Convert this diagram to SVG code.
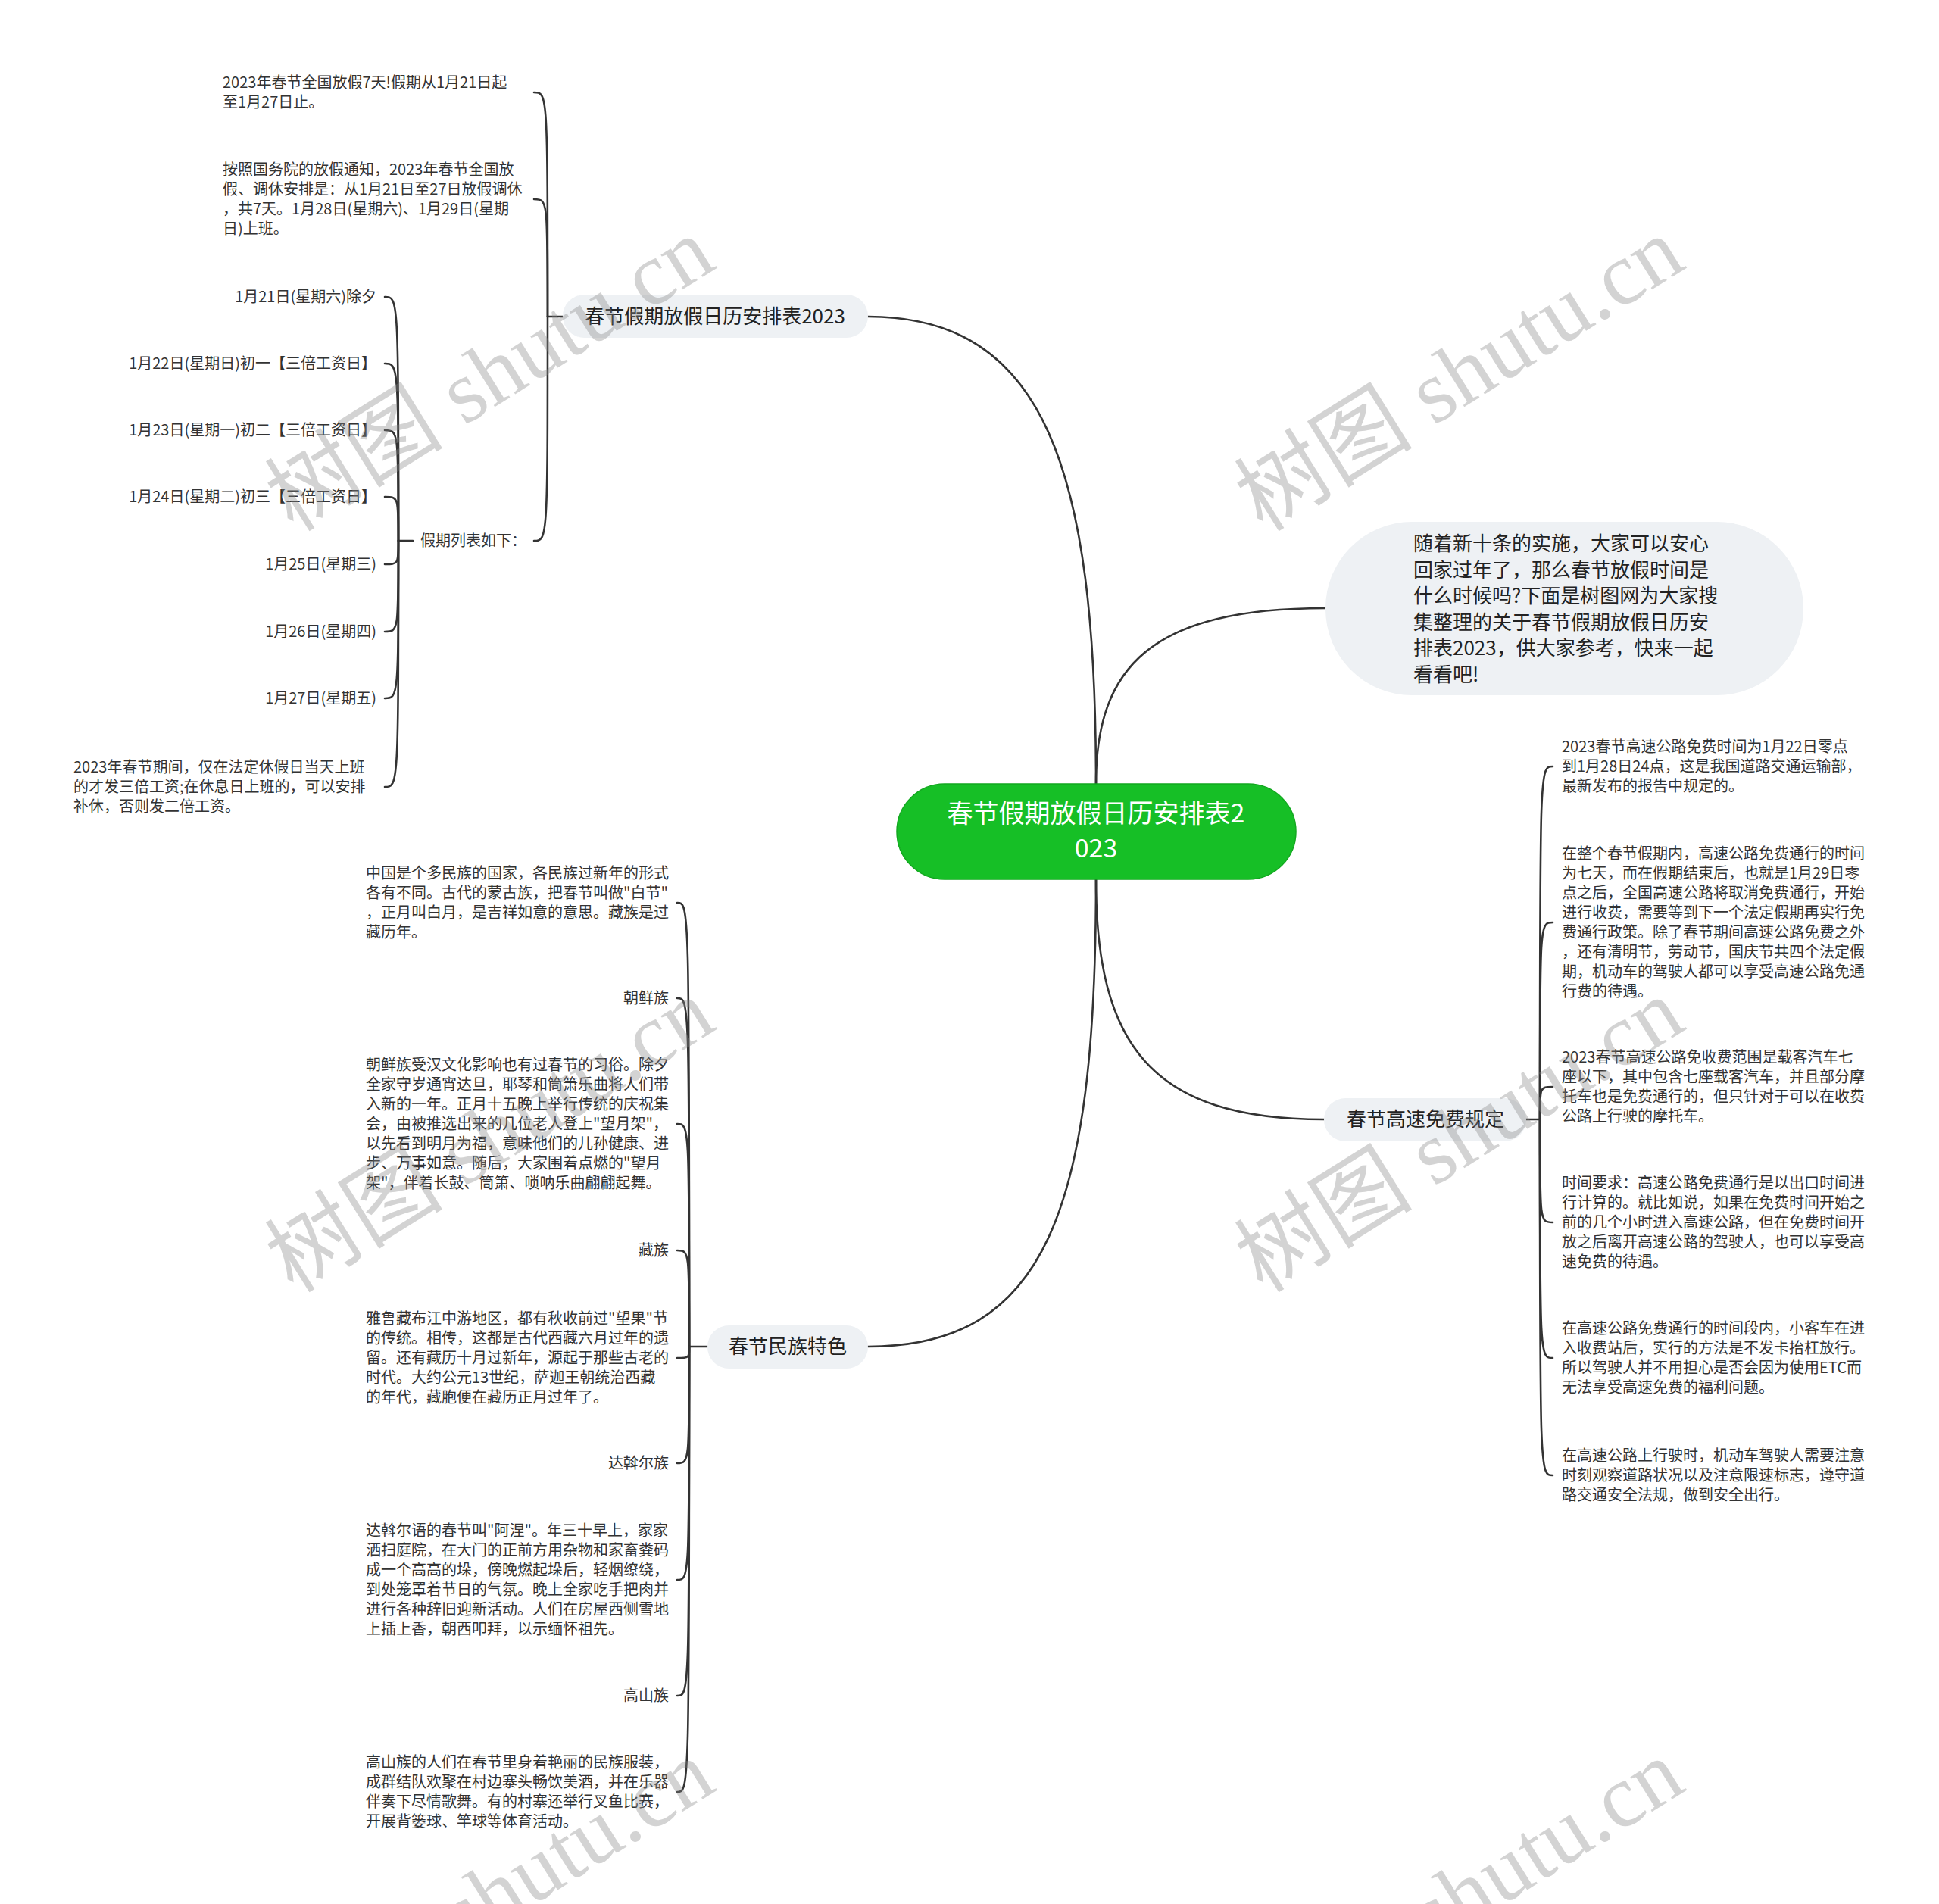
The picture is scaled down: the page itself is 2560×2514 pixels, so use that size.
<svg xmlns="http://www.w3.org/2000/svg" width="2560" height="2514" viewBox="0 0 2560 2514">
<style>
.ln{fill:none;stroke:#333;stroke-width:2.6;stroke-linecap:round}
.pill{fill:#eef1f4}
.t{font-family:"Noto Sans CJK SC","Microsoft YaHei",sans-serif;fill:#333;font-size:20px}
.b{font-family:"Noto Sans CJK SC",sans-serif;fill:#222;font-size:26px}
.r{font-family:"Noto Sans CJK SC",sans-serif;fill:#fff;font-size:34px}
.e{text-anchor:end}
.m{text-anchor:middle}
.wm{font-family:"Liberation Serif","Noto Sans CJK SC",serif;font-size:118px;fill:#888;opacity:0.36}
</style>
<rect width="2560" height="2514" fill="#fff"/>
<g id="connectors">
<path class="ln" d="M1447,1035 C1447,620 1380,418 1146,418"/>
<path class="ln" d="M1447,1035 C1447,880 1520,803 1750,803"/>
<path class="ln" d="M1447,1161 C1447,1380 1520,1478 1748,1478"/>
<path class="ln" d="M1447,1161 C1447,1600 1380,1778 1146,1778"/>
<path class="ln" d="M743,418 H723"/>
<path class="ln" d="M723,418 C723,122 723,122 705,122"/>
<path class="ln" d="M723,418 C723,263 723,263 705,263"/>
<path class="ln" d="M723,418 C723,714 723,714 705,714"/>
<path class="ln" d="M545,714 H526"/>
<path class="ln" d="M526,714 C526,392 526,392 508,392"/>
<path class="ln" d="M526,714 C526,480 526,480 508,480"/>
<path class="ln" d="M526,714 C526,568 526,568 508,568"/>
<path class="ln" d="M526,714 C526,656 526,656 508,656"/>
<path class="ln" d="M526,714 C526,745 526,745 508,745"/>
<path class="ln" d="M526,714 C526,834 526,834 508,834"/>
<path class="ln" d="M526,714 C526,922 526,922 508,922"/>
<path class="ln" d="M526,714 C526,1039 526,1039 508,1039"/>
<path class="ln" d="M2015,1478 H2033"/>
<path class="ln" d="M2033,1478 C2033,1012 2033,1012 2050,1012"/>
<path class="ln" d="M2033,1478 C2033,1218 2033,1218 2050,1218"/>
<path class="ln" d="M2033,1478 C2033,1435 2033,1435 2050,1435"/>
<path class="ln" d="M2033,1478 C2033,1614 2033,1614 2050,1614"/>
<path class="ln" d="M2033,1478 C2033,1793 2033,1793 2050,1793"/>
<path class="ln" d="M2033,1478 C2033,1948 2033,1948 2050,1948"/>
<path class="ln" d="M934,1778 H910"/>
<path class="ln" d="M910,1778 C910,1192 910,1192 894,1192"/>
<path class="ln" d="M910,1778 C910,1318 910,1318 894,1318"/>
<path class="ln" d="M910,1778 C910,1484 910,1484 894,1484"/>
<path class="ln" d="M910,1778 C910,1651 910,1651 894,1651"/>
<path class="ln" d="M910,1778 C910,1793 910,1793 894,1793"/>
<path class="ln" d="M910,1778 C910,1932 910,1932 894,1932"/>
<path class="ln" d="M910,1778 C910,2086 910,2086 894,2086"/>
<path class="ln" d="M910,1778 C910,2239 910,2239 894,2239"/>
<path class="ln" d="M910,1778 C910,2366 910,2366 894,2366"/>
</g>
<g id="root">
<rect x="1184" y="1035" width="527" height="126" rx="63" fill="#16bf26" stroke="#12a81f" stroke-width="1.5"/>
<text class="r m" x="1447" y="1086">春节假期放假日历安排表2</text>
<text class="r m" x="1447" y="1132">023</text>
</g>
<g id="intro">
<rect class="pill" x="1750" y="689" width="631" height="229" rx="114"/>
<text class="b" x="1866" y="727"><tspan x="1866">随着新十条的实施，大家可以安心</tspan><tspan x="1866" dy="34.5">回家过年了，那么春节放假时间是</tspan><tspan x="1866" dy="34.5">什么时候吗?下面是树图网为大家搜</tspan><tspan x="1866" dy="34.5">集整理的关于春节假期放假日历安</tspan><tspan x="1866" dy="34.5">排表2023，供大家参考，快来一起</tspan><tspan x="1866" dy="34.5">看看吧!</tspan></text>
</g>
<g id="branch-calendar">
<rect class="pill" x="743" y="389" width="403" height="57" rx="28.5"/>
<text class="b m" x="944" y="427">春节假期放假日历安排表2023</text>
</g>
<g id="cal-a">
<text class="t" x="294" y="116"><tspan x="294">2023年春节全国放假7天!假期从1月21日起</tspan><tspan x="294" dy="26">至1月27日止。</tspan></text>
</g>
<g id="cal-b">
<text class="t" x="294" y="231"><tspan x="294">按照国务院的放假通知，2023年春节全国放</tspan><tspan x="294" dy="26">假、调休安排是：从1月21日至27日放假调休</tspan><tspan x="294" dy="26">，共7天。1月28日(星期六)、1月29日(星期</tspan><tspan x="294" dy="26">日)上班。</tspan></text>
</g>
<g id="cal-list">
<text class="t" x="555" y="721">假期列表如下：</text>
</g>
<g id="d21"><text class="t e" x="497" y="399">1月21日(星期六)除夕</text></g>
<g id="d22"><text class="t e" x="497" y="487">1月22日(星期日)初一【三倍工资日】</text></g>
<g id="d23"><text class="t e" x="497" y="575">1月23日(星期一)初二【三倍工资日】</text></g>
<g id="d24"><text class="t e" x="497" y="663">1月24日(星期二)初三【三倍工资日】</text></g>
<g id="d25"><text class="t e" x="497" y="752">1月25日(星期三)</text></g>
<g id="d26"><text class="t e" x="497" y="841">1月26日(星期四)</text></g>
<g id="d27"><text class="t e" x="497" y="929">1月27日(星期五)</text></g>
<g id="d-note">
<text class="t" x="97" y="1020"><tspan x="97">2023年春节期间，仅在法定休假日当天上班</tspan><tspan x="97" dy="26">的才发三倍工资;在休息日上班的，可以安排</tspan><tspan x="97" dy="26">补休，否则发二倍工资。</tspan></text>
</g>
<g id="branch-highway">
<rect class="pill" x="1748" y="1450" width="267" height="57" rx="28.5"/>
<text class="b m" x="1882" y="1487">春节高速免费规定</text>
</g>
<g id="hw1">
<text class="t" x="2062" y="993"><tspan x="2062">2023春节高速公路免费时间为1月22日零点</tspan><tspan x="2062" dy="26">到1月28日24点，这是我国道路交通运输部，</tspan><tspan x="2062" dy="26">最新发布的报告中规定的。</tspan></text>
</g>
<g id="hw2">
<text class="t" x="2062" y="1134"><tspan x="2062">在整个春节假期内，高速公路免费通行的时间</tspan><tspan x="2062" dy="26">为七天，而在假期结束后，也就是1月29日零</tspan><tspan x="2062" dy="26">点之后，全国高速公路将取消免费通行，开始</tspan><tspan x="2062" dy="26">进行收费，需要等到下一个法定假期再实行免</tspan><tspan x="2062" dy="26">费通行政策。除了春节期间高速公路免费之外</tspan><tspan x="2062" dy="26">，还有清明节，劳动节，国庆节共四个法定假</tspan><tspan x="2062" dy="26">期，机动车的驾驶人都可以享受高速公路免通</tspan><tspan x="2062" dy="26">行费的待遇。</tspan></text>
</g>
<g id="hw3">
<text class="t" x="2062" y="1403"><tspan x="2062">2023春节高速公路免收费范围是载客汽车七</tspan><tspan x="2062" dy="26">座以下，其中包含七座载客汽车，并且部分摩</tspan><tspan x="2062" dy="26">托车也是免费通行的，但只针对于可以在收费</tspan><tspan x="2062" dy="26">公路上行驶的摩托车。</tspan></text>
</g>
<g id="hw4">
<text class="t" x="2062" y="1569"><tspan x="2062">时间要求：高速公路免费通行是以出口时间进</tspan><tspan x="2062" dy="26">行计算的。就比如说，如果在免费时间开始之</tspan><tspan x="2062" dy="26">前的几个小时进入高速公路，但在免费时间开</tspan><tspan x="2062" dy="26">放之后离开高速公路的驾驶人，也可以享受高</tspan><tspan x="2062" dy="26">速免费的待遇。</tspan></text>
</g>
<g id="hw5">
<text class="t" x="2062" y="1761"><tspan x="2062">在高速公路免费通行的时间段内，小客车在进</tspan><tspan x="2062" dy="26">入收费站后，实行的方法是不发卡抬杠放行。</tspan><tspan x="2062" dy="26">所以驾驶人并不用担心是否会因为使用ETC而</tspan><tspan x="2062" dy="26">无法享受高速免费的福利问题。</tspan></text>
</g>
<g id="hw6">
<text class="t" x="2062" y="1929"><tspan x="2062">在高速公路上行驶时，机动车驾驶人需要注意</tspan><tspan x="2062" dy="26">时刻观察道路状况以及注意限速标志，遵守道</tspan><tspan x="2062" dy="26">路交通安全法规，做到安全出行。</tspan></text>
</g>
<g id="branch-ethnic">
<rect class="pill" x="934" y="1750" width="212" height="57" rx="28.5"/>
<text class="b m" x="1040" y="1787">春节民族特色</text>
</g>
<g id="et1">
<text class="t" x="483" y="1160"><tspan x="483">中国是个多民族的国家，各民族过新年的形式</tspan><tspan x="483" dy="26">各有不同。古代的蒙古族，把春节叫做"白节"</tspan><tspan x="483" dy="26">，正月叫白月，是吉祥如意的意思。藏族是过</tspan><tspan x="483" dy="26">藏历年。</tspan></text>
</g>
<g id="et2"><text class="t e" x="883" y="1325">朝鲜族</text></g>
<g id="et3">
<text class="t" x="483" y="1413"><tspan x="483">朝鲜族受汉文化影响也有过春节的习俗。除夕</tspan><tspan x="483" dy="26">全家守岁通宵达旦，耶琴和筒箫乐曲将人们带</tspan><tspan x="483" dy="26">入新的一年。正月十五晚上举行传统的庆祝集</tspan><tspan x="483" dy="26">会，由被推选出来的几位老人登上"望月架"，</tspan><tspan x="483" dy="26">以先看到明月为福，意味他们的儿孙健康、进</tspan><tspan x="483" dy="26">步、万事如意。随后，大家围着点燃的"望月</tspan><tspan x="483" dy="26">架"，伴着长鼓、筒箫、唢呐乐曲翩翩起舞。</tspan></text>
</g>
<g id="et4"><text class="t e" x="883" y="1658">藏族</text></g>
<g id="et5">
<text class="t" x="483" y="1748"><tspan x="483">雅鲁藏布江中游地区，都有秋收前过"望果"节</tspan><tspan x="483" dy="26">的传统。相传，这都是古代西藏六月过年的遗</tspan><tspan x="483" dy="26">留。还有藏历十月过新年，源起于那些古老的</tspan><tspan x="483" dy="26">时代。大约公元13世纪，萨迦王朝统治西藏</tspan><tspan x="483" dy="26">的年代，藏胞便在藏历正月过年了。</tspan></text>
</g>
<g id="et6"><text class="t e" x="883" y="1939">达斡尔族</text></g>
<g id="et7">
<text class="t" x="483" y="2028"><tspan x="483">达斡尔语的春节叫"阿涅"。年三十早上，家家</tspan><tspan x="483" dy="26">洒扫庭院，在大门的正前方用杂物和家畜粪码</tspan><tspan x="483" dy="26">成一个高高的垛，傍晚燃起垛后，轻烟缭绕，</tspan><tspan x="483" dy="26">到处笼罩着节日的气氛。晚上全家吃手把肉并</tspan><tspan x="483" dy="26">进行各种辞旧迎新活动。人们在房屋西侧雪地</tspan><tspan x="483" dy="26">上插上香，朝西叩拜，以示缅怀祖先。</tspan></text>
</g>
<g id="et8"><text class="t e" x="883" y="2246">高山族</text></g>
<g id="et9">
<text class="t" x="483" y="2334"><tspan x="483">高山族的人们在春节里身着艳丽的民族服装，</tspan><tspan x="483" dy="26">成群结队欢聚在村边寨头畅饮美酒，并在乐器</tspan><tspan x="483" dy="26">伴奏下尽情歌舞。有的村寨还举行叉鱼比赛，</tspan><tspan x="483" dy="26">开展背篓球、竿球等体育活动。</tspan></text>
</g>
<g id="watermarks">
<text class="wm m" transform="translate(668,528) rotate(-32)">树图 shutu.cn</text>
<text class="wm m" transform="translate(1948,528) rotate(-32)">树图 shutu.cn</text>
<text class="wm m" transform="translate(668,1533) rotate(-32)">树图 shutu.cn</text>
<text class="wm m" transform="translate(1948,1533) rotate(-32)">树图 shutu.cn</text>
<text class="wm m" transform="translate(668,2538) rotate(-32)">树图 shutu.cn</text>
<text class="wm m" transform="translate(1948,2538) rotate(-32)">树图 shutu.cn</text>
</g>
</svg>
